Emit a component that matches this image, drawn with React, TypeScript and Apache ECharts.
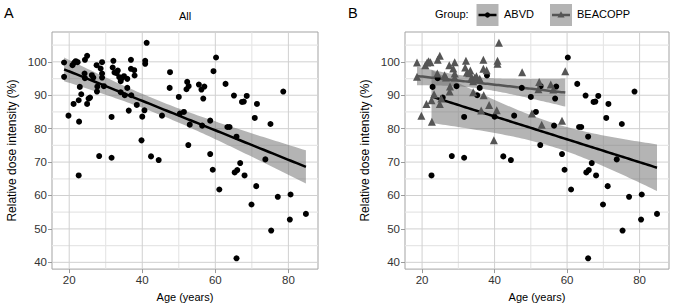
import React, { useEffect, useRef } from "react";
import * as echarts from "echarts";

// ---- data ----
const beacoppAge = [18.6, 18.6, 19.8, 20.9, 21.2, 21.4, 21.8, 22.3, 22.7, 22.6, 23.3, 24.3, 24.9, 24.2, 24.9, 25.3, 26.2, 26.6, 27.5, 27.7, 27.6, 28.6, 29.0, 29.0, 29.0, 31.9, 32.1, 32.4, 33.0, 33.3, 33.7, 34.1, 34.1, 34.5, 35.0, 35.9, 36.3, 36.9, 36.9, 37.0, 37.8, 38.5, 39.8, 40.6, 40.8, 40.8, 41.2, 47.6, 50.3, 52.1, 52.3, 53.0, 55.5, 56.2, 58.6, 59.5];
const beacoppDose = [99.8, 95.5, 83.9, 99.0, 87.4, 99.8, 100.2, 99.9, 82.1, 88.5, 90.3, 100.6, 101.8, 96.5, 87.4, 89.0, 96.0, 95.3, 99.0, 92.6, 91.1, 98.0, 99.9, 96.5, 95.3, 98.3, 100.3, 96.8, 96.6, 97.4, 95.4, 90.9, 94.2, 95.2, 95.7, 94.9, 85.4, 100.6, 97.9, 90.0, 97.5, 87.1, 76.5, 85.5, 100.3, 99.4, 105.7, 96.9, 84.5, 91.8, 94.0, 81.2, 93.2, 91.7, 82.4, 97.2];

const abvdAge = [22.6, 22.9, 24.3, 25.7, 28.2, 29.5, 31.6, 31.6, 35.2, 35.9, 37.9, 40.0, 42.4, 44.5, 45.4, 47.5, 50.0, 51.4, 52.6, 52.7, 56.4, 56.7, 57.0, 58.6, 59.3, 60.2, 61.1, 62.8, 63.3, 63.9, 65.1, 65.3, 65.8, 66.0, 66.8, 65.8, 68.0, 67.3, 67.8, 68.6, 69.9, 70.8, 71.4, 71.2, 73.7, 75.1, 75.3, 77.1, 78.6, 80.4, 80.6, 84.8];
const abvdDose = [66.0, 92.5, 95.1, 89.3, 71.8, 92.7, 83.5, 71.3, 90.0, 92.2, 95.9, 83.6, 71.7, 70.6, 83.9, 92.2, 89.5, 85.0, 75.1, 92.7, 80.9, 89.0, 92.6, 72.4, 67.7, 101.3, 61.8, 93.4, 80.5, 80.5, 89.9, 66.9, 77.6, 67.6, 69.7, 41.2, 66.0, 88.0, 88.1, 89.8, 57.3, 83.2, 87.4, 62.8, 70.8, 81.4, 49.5, 59.6, 91.1, 52.8, 60.3, 54.5];

const xTickLabels = [20, 40, 60, 80];
const xMinorGrid = [30, 50, 70];
const yTickLabels = [40, 50, 60, 70, 80, 90, 100];
const yMinorGrid = [45, 55, 65, 75, 85, 95, 105];

const groupNames = ["ABVD", "BEACOPP"];
const panelTitles = ["All", ""];
const panelLetters = ["A", "B"];

// ---- helpers ----
const FONT = '"Liberation Sans", Arial, Helvetica, sans-serif';
const BAND_FILL = "rgba(105,105,105,0.5)";
const ABVD_COLOR = "#000000";
const BEACOPP_COLOR = "#555555";

const allAge = beacoppAge.concat(abvdAge);
const allDose = beacoppDose.concat(abvdDose);

function expandRange(vals: number[]) {
  const lo = Math.min(...vals);
  const hi = Math.max(...vals);
  const pad = (hi - lo) * 0.05;
  return [lo - pad, hi + pad];
}
const xRange = expandRange(allAge);
const yRange = expandRange(allDose);

function tQuantile975(df: number) {
  const z = 1.959964;
  return (
    z +
    (z ** 3 + z) / (4 * df) +
    (5 * z ** 5 + 16 * z ** 3 + 3 * z) / (96 * df * df) +
    (3 * z ** 7 + 19 * z ** 5 + 17 * z ** 3 - 15 * z) / (384 * df ** 3)
  );
}

function fitLine(xs: number[], ys: number[], steps = 80) {
  const n = xs.length;
  const xbar = xs.reduce((a, b) => a + b, 0) / n;
  const ybar = ys.reduce((a, b) => a + b, 0) / n;
  let sxx = 0, sxy = 0;
  for (let i = 0; i < n; i++) {
    sxx += (xs[i] - xbar) ** 2;
    sxy += (xs[i] - xbar) * (ys[i] - ybar);
  }
  const b = sxy / sxx;
  const a = ybar - b * xbar;
  let sse = 0;
  for (let i = 0; i < n; i++) sse += (ys[i] - (a + b * xs[i])) ** 2;
  const s = Math.sqrt(sse / (n - 2));
  const t = tQuantile975(n - 2);
  const xmin = Math.min(...xs);
  const xmax = Math.max(...xs);
  const line: number[][] = [];
  const band: number[][] = [];
  for (let i = 0; i <= steps; i++) {
    const x = xmin + ((xmax - xmin) * i) / steps;
    const yh = a + b * x;
    const se = s * Math.sqrt(1 / n + (x - xbar) ** 2 / sxx);
    line.push([x, yh]);
    band.push([x, yh - t * se, yh + t * se]);
  }
  return { line, band };
}

const fitAll = fitLine(allAge, allDose);
const fitAbvd = fitLine(abvdAge, abvdDose);
const fitBeacopp = fitLine(beacoppAge, beacoppDose);

function zip(xs: number[], ys: number[]) {
  return xs.map((x, i) => [x, ys[i]]);
}

function gridLinesSeries(idx: number) {
  return {
    type: "custom",
    xAxisIndex: idx,
    yAxisIndex: idx,
    z: 0,
    silent: true,
    data: [[xRange[0], yRange[0]]],
    renderItem: (params: any, api: any) => {
      if (params.dataIndex !== 0) return null;
      const children: any[] = [];
      const v = (val: number, color: string, w: number) => {
        const p0 = api.coord([val, yRange[0]]);
        const p1 = api.coord([val, yRange[1]]);
        children.push({ type: "line", shape: { x1: p0[0], y1: p0[1], x2: p1[0], y2: p1[1] }, style: { stroke: color, lineWidth: w } });
      };
      const h = (val: number, color: string, w: number) => {
        const p0 = api.coord([xRange[0], val]);
        const p1 = api.coord([xRange[1], val]);
        children.push({ type: "line", shape: { x1: p0[0], y1: p0[1], x2: p1[0], y2: p1[1] }, style: { stroke: color, lineWidth: w } });
      };
      xMinorGrid.forEach((x) => v(x, "#e2e2e2", 1));
      yMinorGrid.forEach((y) => h(y, "#e6e6e6", 1.2));
      xTickLabels.forEach((x) => v(x, "#d0d0d0", 1));
      yTickLabels.forEach((y) => h(y, "#d0d0d0", 1));
      return { type: "group", children };
    },
  };
}

function bandSeries(band: number[][], idx: number) {
  return {
    type: "custom",
    xAxisIndex: idx,
    yAxisIndex: idx,
    z: 1,
    silent: true,
    data: band,
    encode: { x: 0, y: [1, 2] },
    renderItem: (params: any, api: any) => {
      if (params.dataIndex !== 0) return null;
      const upper = band.map((p) => api.coord([p[0], p[2]]));
      const lower = band.map((p) => api.coord([p[0], p[1]])).reverse();
      return { type: "polygon", shape: { points: upper.concat(lower) }, style: { fill: BAND_FILL } };
    },
  };
}

function lineSeries(line: number[][], idx: number, color: string) {
  return {
    type: "line",
    xAxisIndex: idx,
    yAxisIndex: idx,
    data: line,
    showSymbol: false,
    symbol: "none",
    z: 3,
    silent: true,
    lineStyle: { color, width: 2.5 },
  };
}

function scatterSeries(data: number[][], idx: number, color: string, symbol: string, size: number, name?: string) {
  return {
    type: "scatter",
    name,
    xAxisIndex: idx,
    yAxisIndex: idx,
    data,
    symbol,
    symbolSize: size,
    z: 4,
    itemStyle: { color, opacity: 1 },
  };
}

const textStyle = { fontFamily: FONT };

function xAxisOpt(idx: number) {
  return {
    type: "value",
    gridIndex: idx,
    min: xRange[0],
    max: xRange[1],
    axisLine: { show: false, onZero: false },
    axisTick: { show: true, length: 4, customValues: xTickLabels, lineStyle: { color: "#9a9a9a" } },
    axisLabel: { customValues: xTickLabels, color: "#333", fontSize: 11.5, fontFamily: FONT, margin: 5 },
    splitLine: { show: false },
    name: "Age (years)",
    nameLocation: "middle",
    nameGap: 20,
    nameTextStyle: { color: "#000", fontSize: 11, fontFamily: FONT, verticalAlign: "top" },
  };
}

function yAxisOpt(idx: number) {
  return {
    type: "value",
    gridIndex: idx,
    min: yRange[0],
    max: yRange[1],
    axisLine: { show: false, onZero: false },
    axisTick: { show: true, length: 4, customValues: yTickLabels, lineStyle: { color: "#9a9a9a" } },
    axisLabel: { customValues: yTickLabels, color: "#333", fontSize: 11.5, fontFamily: FONT, margin: 5 },
    splitLine: { show: false },
    name: "Relative dose intensity (%)",
    nameLocation: "middle",
    nameRotate: 90,
    nameGap: 34,
    nameTextStyle: { color: "#000", fontSize: 12, fontFamily: FONT },
  };
}

function legendGraphic() {
  const keyY = 4;
  const keyH = 22;
  const cy = keyY + keyH / 2;
  const key = (x: number, color: string, marker: any) => ({
    type: "group",
    children: [
      { type: "rect", shape: { x, y: keyY, width: 22, height: keyH }, style: { fill: "#b4b4b4" } },
      { type: "line", shape: { x1: x + 2, y1: cy, x2: x + 20, y2: cy }, style: { stroke: color, lineWidth: 2.5 } },
      marker,
    ],
  });
  return [
    { type: "text", left: 435, top: cy - 6.5, style: { text: "Group:", fontSize: 11, fontFamily: FONT, fill: "#000" } },
    key(476.5, ABVD_COLOR, { type: "circle", shape: { cx: 487.5, cy, r: 2.6 }, style: { fill: ABVD_COLOR } }),
    { type: "text", left: 504, top: cy - 6.5, style: { text: groupNames[0], fontSize: 11, fontFamily: FONT, fill: "#000" } },
    key(550, BEACOPP_COLOR, {
      type: "polygon",
      shape: { points: [[561, cy - 3.8], [564.6, cy + 2.6], [557.4, cy + 2.6]] },
      style: { fill: BEACOPP_COLOR },
    }),
    { type: "text", left: 577, top: cy - 6.5, style: { text: groupNames[1], fontSize: 11, fontFamily: FONT, fill: "#000" } },
  ];
}

export default function App() {
  const ref = useRef<HTMLDivElement>(null);
  useEffect(() => {
    if (!ref.current) return;
    const chart = echarts.init(ref.current, undefined, { renderer: "svg" });
    const gridBase = { show: true, borderColor: "#a3a3a3", borderWidth: 1, backgroundColor: "#fff", containLabel: false };
    chart.setOption({
      animation: false,
      backgroundColor: "#fff",
      textStyle,
      grid: [
        { ...gridBase, left: 52, top: 32, width: 266, height: 239 },
        { ...gridBase, left: 405, top: 32, width: 264, height: 239 },
      ],
      xAxis: [xAxisOpt(0), xAxisOpt(1)],
      yAxis: [yAxisOpt(0), yAxisOpt(1)],
      graphic: [
        { type: "text", left: 4, top: 5, style: { text: panelLetters[0], fontSize: 14.5, fontFamily: FONT, fill: "#000" } },
        { type: "text", left: 348, top: 5, style: { text: panelLetters[1], fontSize: 14.5, fontFamily: FONT, fill: "#000" } },
        { type: "text", x: 185, y: 15.5, style: { text: panelTitles[0], fontSize: 11, fontFamily: FONT, fill: "#000", align: "center", verticalAlign: "middle" } },
        ...legendGraphic(),
      ],
      series: [
        gridLinesSeries(0),
        bandSeries(fitAll.band, 0),
        lineSeries(fitAll.line, 0, "#000"),
        scatterSeries(zip(allAge, allDose), 0, "#000", "circle", 6),
        gridLinesSeries(1),
        bandSeries(fitAbvd.band, 1),
        bandSeries(fitBeacopp.band, 1),
        lineSeries(fitAbvd.line, 1, ABVD_COLOR),
        lineSeries(fitBeacopp.line, 1, BEACOPP_COLOR),
        scatterSeries(zip(abvdAge, abvdDose), 1, ABVD_COLOR, "circle", 6, groupNames[0]),
        scatterSeries(zip(beacoppAge, beacoppDose), 1, BEACOPP_COLOR, "triangle", 8, groupNames[1]),
      ],
    });
    return () => chart.dispose();
  }, []);
  return (
    <div
      ref={ref}
      style={{ position: "absolute", left: 0, top: 0, width: 677, height: 307, background: "#fff" }}
    />
  );
}
